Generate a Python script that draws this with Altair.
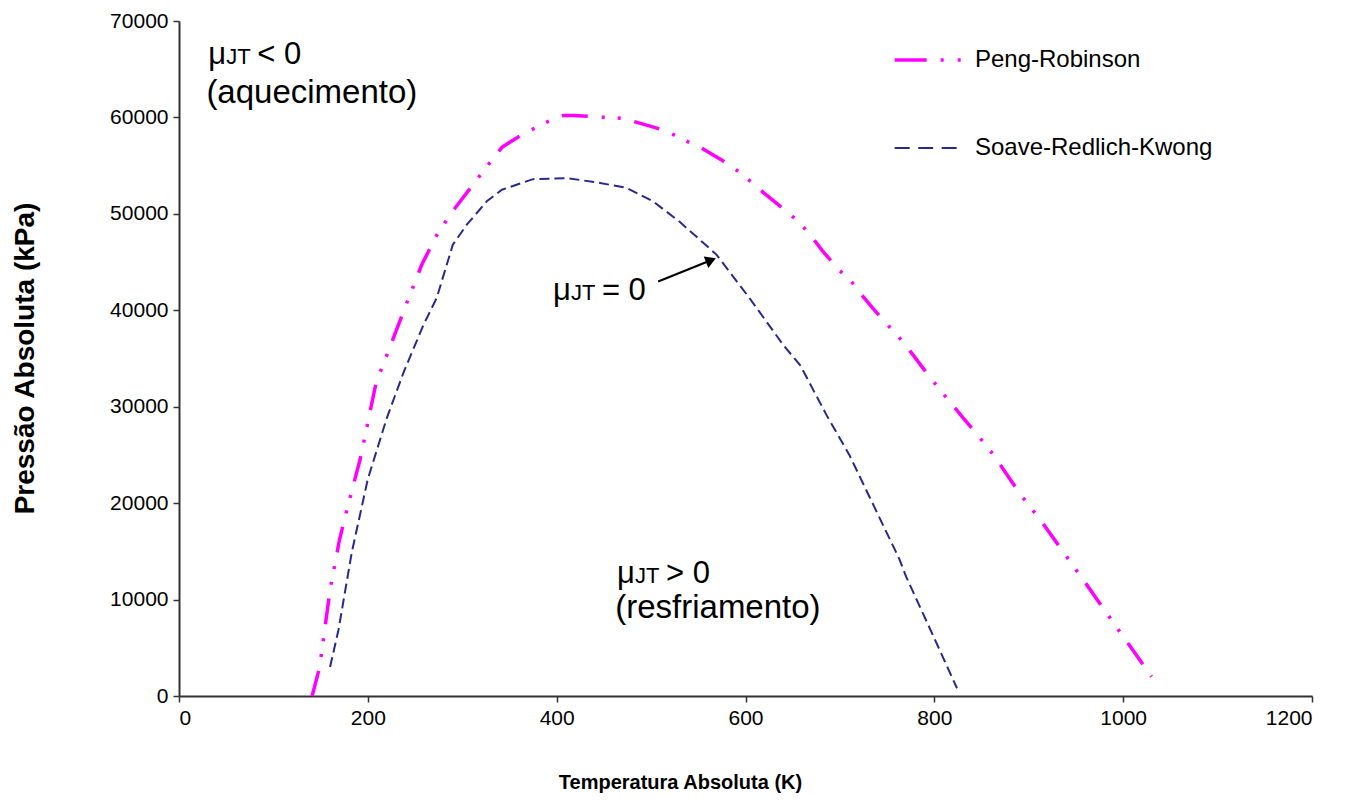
import altair as alt
import pandas as pd

FONT = "Liberation Sans"

# Peng-Robinson inversion curve (T in K, P in kPa)
pr_T = [141, 149, 160, 170, 178, 192, 209, 220, 239, 257, 273, 290, 301, 312, 322, 342, 358,
        373, 389, 407, 418, 435, 453, 470, 499, 516, 534, 552, 576, 591, 605, 619, 643, 656,
        668, 682, 700, 712, 723, 735, 755, 767, 778, 788, 808, 820, 830, 843, 862, 892, 912,
        942, 961, 991, 1010, 1030]
pr_P = [0, 3000, 11000, 16200, 19400, 24600, 32600, 35300, 40200, 44700, 47800, 50300, 51700,
        53100, 54400, 56900, 57900, 58700, 59500, 60200, 60200, 60100, 60000, 59900, 59100,
        58600, 57700, 56900, 55500, 54500, 53400, 52200, 50300, 49200, 47900, 46100, 44100,
        43000, 41600, 40200, 38000, 36700, 35300, 34000, 31500, 30100, 28900, 27400, 25100,
        20800, 18300, 14200, 11600, 7400, 4800, 2000]

# Soave-Redlich-Kwong inversion curve
srk_T = [160, 169, 183, 200, 220, 238, 259, 273, 290, 305, 326, 342, 375, 412, 446, 474, 502,
         530, 569, 604, 640, 658, 686, 710, 735, 763, 770, 799, 824]
srk_P = [3000, 6900, 14900, 22500, 28800, 33600, 38500, 41300, 46800, 48900, 51300, 52500,
         53600, 53700, 53200, 52700, 51300, 49200, 45800, 41300, 36400, 34300, 29100, 25000,
         19900, 14200, 12400, 6200, 800]

x_ticks = [0, 200, 400, 600, 800, 1000, 1200]
y_ticks = [0, 10000, 20000, 30000, 40000, 50000, 60000, 70000]

series_names = ["Peng-Robinson", "Soave-Redlich-Kwong"]
x_title = "Temperatura Absoluta (K)"
y_title = "Pressão Absoluta (kPa)"

# annotation anchors (data units)
ann_T = [31, 396, 464]
ann_P1 = [65500, 41070, 11750]
ann_rel = ["<", "=", ">"]
sub_T = [29, 462]
sub_P = [61450, 8130]
ann_sub = ["(aquecimento)", "(resfriamento)"]

arrow_T = [507.5, 563.4]
arrow_P = [42990, 45190]

legend_T = [758, 829, 843]
legend_P = [65960, 56830]

PINK = "#FF00FF"
NAVY = "#28288F"

pr_df = pd.DataFrame({"T": pr_T, "P": pr_P, "i": range(len(pr_T))})
srk_df = pd.DataFrame({"T": srk_T, "P": srk_P, "i": range(len(srk_T))})

xs = alt.Scale(domain=[0, 1200], nice=False, zero=False)
ys = alt.Scale(domain=[0, 70000], nice=False)

axis_common = dict(grid=False, labelFont=FONT, labelFontSize=21, labelColor="black",
                   tickColor="#333333", tickWidth=1.5, tickSize=6, domainColor="#333333",
                   domainWidth=2, titleFont=FONT, titleFontWeight="bold",
                   titleColor="black", format="d", labelPadding=5)

xaxis = alt.Axis(values=x_ticks, title=x_title, titleX=501, titleY=86, titleFontSize=20,
                 titleBaseline="middle", titleAlign="center", **axis_common)
yaxis = alt.Axis(values=y_ticks, title=y_title, titleX=-154, titleY=337, titleFontSize=28,
                 titleBaseline="middle", titleAlign="center", titleAngle=270, **axis_common)

pr_line = alt.Chart(pr_df).mark_line(
    color=PINK, strokeWidth=3.5, strokeDash=[26, 14, 3, 13, 3, 14]
).encode(x=alt.X("T:Q", scale=xs, axis=xaxis), y=alt.Y("P:Q", scale=ys, axis=yaxis),
         order="i:Q")

srk_line = alt.Chart(srk_df).mark_line(
    color=NAVY, strokeWidth=2, strokeDash=[10, 5]
).encode(x=alt.X("T:Q", scale=xs), y=alt.Y("P:Q", scale=ys), order="i:Q")

# arrow
arrow_df = pd.DataFrame({"T": arrow_T, "P": arrow_P, "i": [0, 1]})
arrow_line = alt.Chart(arrow_df).mark_line(color="black", strokeWidth=2).encode(
    x=alt.X("T:Q", scale=xs), y=alt.Y("P:Q", scale=ys), order="i:Q")
arrow_head = alt.Chart(arrow_df.iloc[[1]]).mark_point(
    shape="triangle-right", filled=True, color="black", size=150, angle=338, opacity=1
).encode(x=alt.X("T:Q", scale=xs), y=alt.Y("P:Q", scale=ys))

# annotations
main_size = 31
sub_size = 22
ann_df = pd.DataFrame({"T": ann_T, "P": ann_P1,
                       "rel": [r + " 0" for r in ann_rel]})
mu = alt.Chart(ann_df).mark_text(text="μ", align="left", baseline="alphabetic",
                                 font=FONT, fontSize=main_size, color="black").encode(
    x=alt.X("T:Q", scale=xs), y=alt.Y("P:Q", scale=ys))
jt = alt.Chart(ann_df).mark_text(text="JT", align="left", baseline="alphabetic",
                                 font=FONT, fontSize=sub_size, color="black", dx=18).encode(
    x=alt.X("T:Q", scale=xs), y=alt.Y("P:Q", scale=ys))
rel = alt.Chart(ann_df).mark_text(align="left", baseline="alphabetic",
                                  font=FONT, fontSize=main_size, color="black", dx=49).encode(
    x=alt.X("T:Q", scale=xs), y=alt.Y("P:Q", scale=ys), text="rel:N")
sub_df = pd.DataFrame({"T": sub_T, "P": sub_P, "txt": ann_sub})
sub = alt.Chart(sub_df).mark_text(align="left", baseline="alphabetic",
                                  font=FONT, fontSize=33, color="black").encode(
    x=alt.X("T:Q", scale=xs), y=alt.Y("P:Q", scale=ys), text="txt:N")

# legend (drawn manually)
leg_pr = alt.Chart(pd.DataFrame({"T": legend_T[:2], "P": [legend_P[0]] * 2})).mark_line(
    color=PINK, strokeWidth=3.5, strokeDash=[32, 14, 3, 14, 3, 200]
).encode(x=alt.X("T:Q", scale=xs), y=alt.Y("P:Q", scale=ys))
leg_srk = alt.Chart(pd.DataFrame({"T": legend_T[:2], "P": [legend_P[1]] * 2})).mark_line(
    color=NAVY, strokeWidth=2, strokeDash=[15, 8.5]
).encode(x=alt.X("T:Q", scale=xs), y=alt.Y("P:Q", scale=ys))
leg_txt = alt.Chart(pd.DataFrame({"T": [legend_T[2]] * 2, "P": legend_P,
                                  "name": series_names})).mark_text(
    align="left", baseline="middle", font=FONT, fontSize=24, color="black"
).encode(x=alt.X("T:Q", scale=xs), y=alt.Y("P:Q", scale=ys), text="name:N")

chart = alt.layer(pr_line, srk_line, arrow_line, arrow_head, mu, jt, rel, sub,
                  leg_pr, leg_srk, leg_txt).properties(
    width=1133, height=675,
    padding={"left": 179, "top": 21, "right": 37, "bottom": 105},
    autosize=alt.AutoSizeParams(type="none"),
    background="white",
).configure_view(stroke=None)

chart.save("out.html", embed_options={"renderer": "svg", "actions": False})
